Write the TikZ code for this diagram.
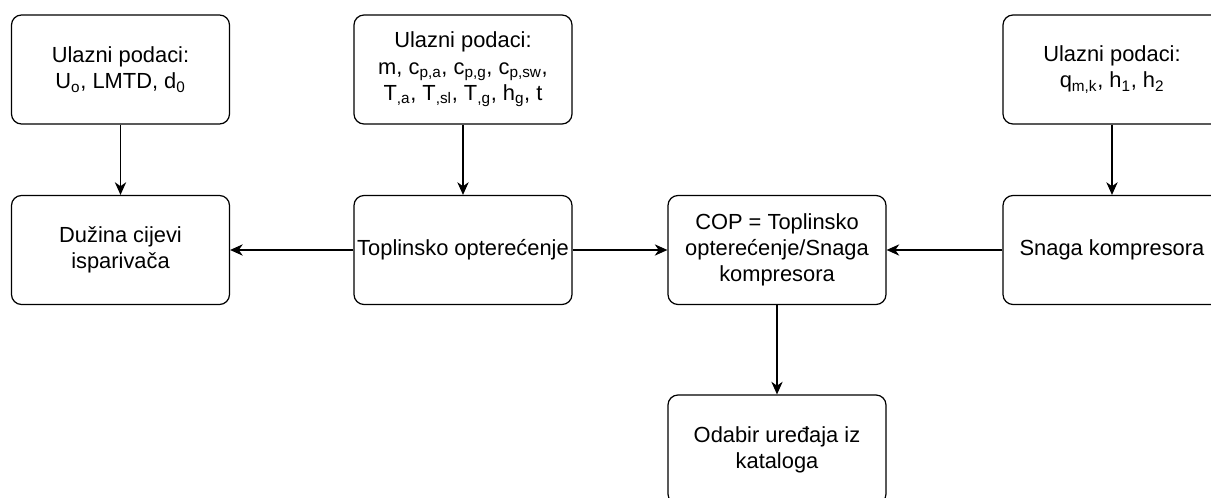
\documentclass[tikz,border=0pt]{standalone}
\usepackage{fontspec}
\setmainfont{Liberation Sans}
\usetikzlibrary{arrows.meta}
\tikzset{
  box/.style={draw=black, line width=0.9pt, rounded corners=7.5pt, fill=white,
    minimum width=163.5pt, minimum height=81.75pt, align=center, inner sep=1pt,
    font=\fontsize{16.4}{19.6}\selectfont},
  arr/.style={draw=black, line width=0.9pt, -{Stealth[length=9.5pt,width=8.5pt,inset=3pt]}}
}
\newcommand{\sbs}[1]{\textsubscript{#1}}
\begin{document}
\begin{tikzpicture}[x=0.75pt,y=-0.75pt]
\useasboundingbox (0,0) rectangle (1211,498);
\node[box] (A) at (120.5,69.5) {Ulazni podaci:\\U\sbs{o}, LMTD, d\sbs{0}};
\node[box] (B) at (463,69.5) {Ulazni podaci:\\m, c\sbs{p,a}, c\sbs{p,g}, c\sbs{p,sw},\\T\sbs{,a}, T\sbs{,sl}, T\sbs{,g}, h\sbs{g}, t};
\node[box] (C) at (1112,69.5) {Ulazni podaci:\\q\sbs{m,k}, h\sbs{1}, h\sbs{2}};
\node[box] (D) at (120.5,250) {Dužina cijevi\\isparivača};
\node[box] (T) at (463,250) {Toplinsko opterećenje};
\node[box] (COP) at (777,250) {COP = Toplinsko\\opterećenje/Snaga\\kompresora};
\node[box] (S) at (1112,250) {Snaga kompresora};
\node[box] (O) at (777,449.5) {Odabir uređaja iz\\kataloga};
\draw[arr] (A) -- (D);
\draw[arr] (B) -- (T);
\draw[arr] (C) -- (S);
\draw[arr] (T) -- (D);
\draw[arr] (T) -- (COP);
\draw[arr] (S) -- (COP);
\draw[arr] (COP) -- (O);
\end{tikzpicture}
\end{document}
